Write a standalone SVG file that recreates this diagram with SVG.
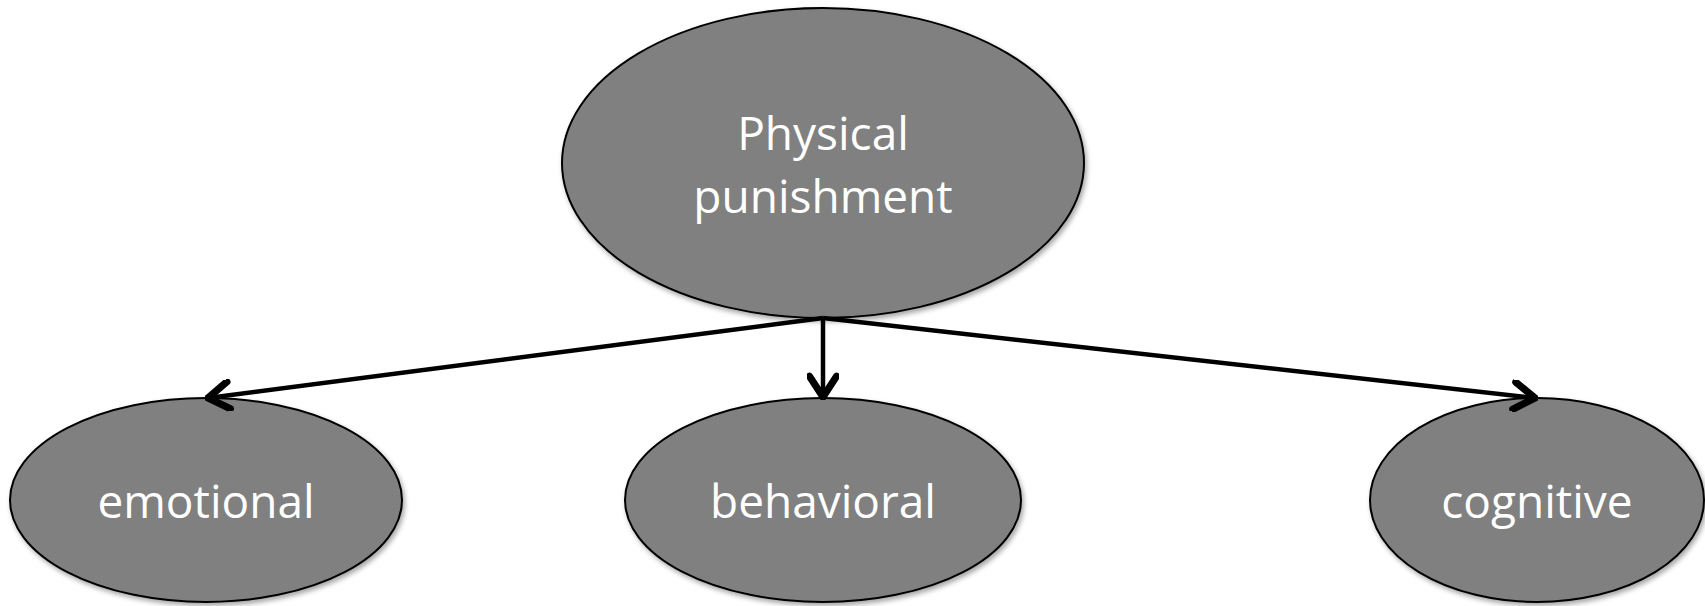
<svg xmlns="http://www.w3.org/2000/svg" width="1705" height="606" viewBox="0 0 1705 606">
<style>
.node ellipse{fill:#808080;stroke:#000;stroke-width:2}
.node text{fill:#fff;font-family:"Open Sans","Liberation Sans",sans-serif;font-size:46px;text-anchor:middle}
.conn line{stroke:#000;stroke-width:4.5;fill:none}
</style>
<defs>
<filter id="sh" x="-10%" y="-10%" width="120%" height="130%">
<feDropShadow dx="2" dy="3" stdDeviation="2.5" flood-color="#000" flood-opacity="0.35"/>
</filter>
<marker id="arr" markerUnits="userSpaceOnUse" markerWidth="32" markerHeight="32" refX="18" refY="10" orient="auto" viewBox="0 0 20 20">
<path d="M5,1.5 L18,10 L5,18.5" fill="none" stroke="#000" stroke-width="4.5" stroke-linecap="round" stroke-linejoin="miter"/>
</marker>
</defs>
<rect width="1705" height="606" fill="#fff"/>
<g id="top" class="node">
<ellipse cx="823" cy="163" rx="261" ry="155" filter="url(#sh)"/>
<text x="823" y="150">Physical</text>
<text x="823" y="213">punishment</text>
</g>
<g id="emotional" class="node">
<ellipse cx="206" cy="500" rx="196" ry="102" filter="url(#sh)"/>
<text x="206" y="518">emotional</text>
</g>
<g id="behavioral" class="node">
<ellipse cx="823" cy="500" rx="198" ry="102" filter="url(#sh)"/>
<text x="823" y="518">behavioral</text>
</g>
<g id="cognitive" class="node">
<ellipse cx="1537" cy="500" rx="167" ry="102" filter="url(#sh)"/>
<text x="1537" y="518">cognitive</text>
</g>
<g id="connectors" class="conn">
<line x1="823" y1="318" x2="208" y2="398" marker-end="url(#arr)"/>
<line x1="823" y1="318" x2="823" y2="397" marker-end="url(#arr)"/>
<line x1="823" y1="318" x2="1535" y2="398" marker-end="url(#arr)"/>
</g>
</svg>
